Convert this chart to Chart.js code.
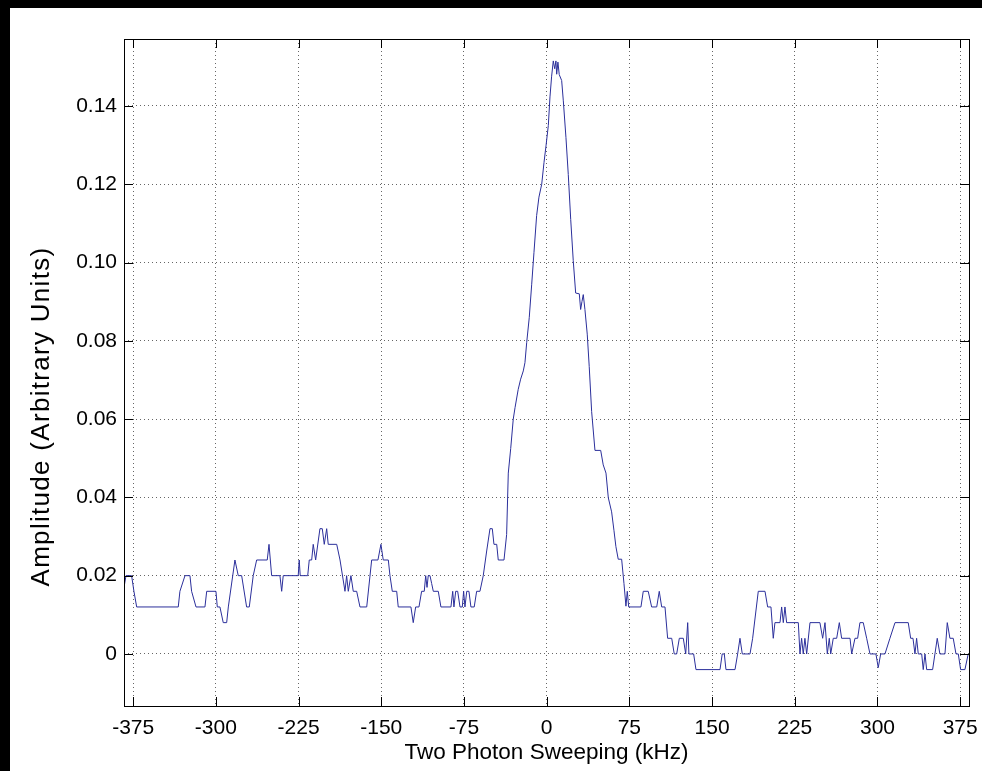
<!DOCTYPE html>
<html>
<head>
<meta charset="utf-8">
<script src="https://cdn.jsdelivr.net/npm/chart.js@4.4.0/dist/chart.umd.min.js"></script>
<style>
  html, body { margin: 0; padding: 0; background: #000; }
  #wrap { position: absolute; left: 10px; top: 8px; width: 972px; height: 763px; background: #fff; }
</style>
</head>
<body>
<div id="wrap"><canvas id="sweepChart"></canvas></div>
<script>
// two photon sweep
const freqKHz = [
  -383.3, -381.5, -376.4, -374.3, -371.8, -334.1, -332.6, -328.0, -323.5, -322.0,
  -318.0, -309.9, -308.3, -299.9, -298.7, -296.3, -293.3, -290.2, -288.7, -282.7,
  -279.7, -276.6, -272.1, -269.7, -266.1, -263.0, -253.4, -251.8, -249.4,
  -241.9, -240.3, -238.9, -225.3, -224.4, -223.5, -216.7, -215.3, -213.1, -211.7,
  -209.5, -205.6, -203.5, -201.7, -199.5, -198.1, -190.4, -187.4, -182.9, -181.4,
  -179.9, -177.5, -175.4, -172.3, -169.3, -163.2, -158.7, -153.0, -150.3, -148.2,
  -143.6, -142.1, -140.0, -136.0, -134.6, -123.1, -121.0, -118.8,
  -115.8, -113.4, -111.0, -109.7, -108.5, -107.4, -105.8, -104.3, -102.8, -98.3,
  -95.9, -86.8, -85.2, -84.1, -82.5, -80.7, -78.6, -76.5, -75.3, -74.1,
  -72.5, -70.5, -68.7, -65.7, -63.5, -60.5, -57.5,
  -54.4, -51.4, -49.3, -47.8, -45.3, -43.9, -38.7, -36.3, -34.8, -32.6,
  -30.3, -28.7, -25.8, -23.6, -21.2, -19.7, -18.1, -15.8, -13.6, -11.5,
  -9.1, -7.0, -4.5, -2.4, -0.6, 1.5, 3.0, 4.5, 6.0, 7.3,
  8.4, 9.1, 10.2, 11.4, 13.6, 15.1, 17.5, 19.6, 21.8, 24.1,
  26.3, 29.6, 30.8, 32.0, 33.2, 34.7, 36.8, 38.6, 40.8, 43.8,
  49.0, 51.3, 53.8, 55.9, 58.9, 61.0, 62.8, 64.9, 68.0, 70.1,
  71.9, 73.1, 74.4,
  85.5, 87.6, 92.1, 95.2, 99.8, 102.1, 104.3, 107.3, 109.7, 113.4,
  115.7, 117.9, 120.3, 123.9, 126.1, 127.9, 129.0, 133.3, 135.4, 157.2,
  159.2, 161.1, 162.6, 170.8, 173.2, 175.3, 177.4, 184.4, 186.8, 191.9,
  198.0, 200.4, 203.4, 205.5, 207.0, 211.6, 213.1, 214.6, 216.1, 217.6,
  228.2,
  229.7, 231.2, 232.7, 234.2, 235.8, 238.8, 247.8, 250.3, 252.4, 254.5,
  256.3, 257.6, 259.9, 263.0, 265.4, 267.5, 275.1, 276.6, 279.6, 282.0,
  284.1, 287.1, 290.2, 293.2, 298.6, 300.7, 302.9, 306.8, 311.3, 315.9,
  327.9, 330.1, 332.2, 334.0, 335.5, 337.0, 340.1, 341.5, 343.1, 344.6,
  350.0, 352.1, 354.2, 356.6, 361.2, 363.3, 365.7, 368.7, 371.2, 373.3,
  375.4, 379.3, 382.3
];

const amplitude = [
  0.017, 0.020, 0.020, 0.016, 0.012, 0.012, 0.016, 0.020, 0.020, 0.016,
  0.012, 0.012, 0.016, 0.016, 0.012, 0.012, 0.008, 0.008, 0.012, 0.024,
  0.020, 0.020, 0.012, 0.012, 0.020, 0.024, 0.024, 0.028, 0.020,
  0.020, 0.016, 0.020, 0.020, 0.024, 0.020, 0.020, 0.024, 0.024, 0.028,
  0.024, 0.032, 0.032, 0.028, 0.032, 0.028, 0.028, 0.024, 0.016, 0.020,
  0.016, 0.020, 0.016, 0.016, 0.012, 0.012, 0.024, 0.024, 0.028, 0.024,
  0.024, 0.020, 0.016, 0.016, 0.012, 0.012, 0.008, 0.012,
  0.012, 0.016, 0.016, 0.020, 0.017, 0.020, 0.020, 0.018, 0.016, 0.016,
  0.012, 0.012, 0.016, 0.012, 0.016, 0.016, 0.012, 0.012, 0.016, 0.012,
  0.016, 0.016, 0.012, 0.012, 0.016, 0.016, 0.020,
  0.0263, 0.032, 0.032, 0.028, 0.028, 0.024, 0.024, 0.0305, 0.0462, 0.0525,
  0.060, 0.0629, 0.0676, 0.0702, 0.0723, 0.0744, 0.0796, 0.0859, 0.0943, 0.1026,
  0.112, 0.1167, 0.120, 0.1256, 0.1298, 0.135, 0.1423, 0.1476, 0.1515, 0.1495,
  0.1515, 0.1481, 0.1512, 0.148, 0.1465, 0.1413, 0.1319, 0.1225, 0.111, 0.1005,
  0.0922, 0.092, 0.088, 0.090, 0.0918, 0.088, 0.0817, 0.0734, 0.0619, 0.052,
  0.052, 0.0483, 0.0462, 0.0399, 0.0363, 0.0316, 0.0274, 0.0242, 0.0242, 0.018,
  0.0122, 0.016, 0.012,
  0.012, 0.016, 0.016, 0.012, 0.012, 0.016, 0.012, 0.012, 0.004, 0.004,
  0.000, 0.000, 0.004, 0.004, 0.000, 0.008, 0.000, 0.000, -0.004, -0.004,
  0.000, 0.000, -0.004, -0.004, 0.000, 0.004, 0.000, 0.000, 0.004, 0.016,
  0.016, 0.012, 0.012, 0.004, 0.008, 0.008, 0.012, 0.008, 0.012, 0.008,
  0.008,
  0.000, 0.004, 0.000, 0.004, 0.000, 0.008, 0.008, 0.004, 0.008, 0.000,
  0.004, 0.000, 0.004, 0.004, 0.008, 0.004, 0.004, 0.000, 0.004, 0.004,
  0.008, 0.008, 0.004, 0.000, 0.000, -0.0035, 0.000, 0.000, 0.004, 0.008,
  0.008, 0.004, 0.004, 0.000, 0.004, 0.000, 0.000, -0.004, 0.000, -0.004,
  -0.004, 0.000, 0.004, 0.000, 0.000, 0.008, 0.004, 0.004, 0.000, 0.000,
  -0.004, -0.004, 0.000
];

const xTicks = [-375, -300, -225, -150, -75, 0, 75, 150, 225, 300, 375];
const yTicks = [0, 0.02, 0.04, 0.06, 0.08, 0.10, 0.12, 0.14];
const yTitle = 'Amplitude (Arbitrary Units)';

const FONT = "'Liberation Sans', Arial, sans-serif";

// matlab style box with inward ticks on all four sides, plus the y label
const boxPlugin = {
  id: 'boxPlugin',
  afterDraw(chart) {
    const { ctx, chartArea: a, scales: { x, y } } = chart;
    const tl = 9;
    ctx.save();
    ctx.strokeStyle = '#000';
    ctx.lineWidth = 1;
    ctx.strokeRect(Math.round(a.left) + 0.5, Math.round(a.top) + 0.5,
      Math.round(a.right - a.left), Math.round(a.bottom - a.top));
    ctx.beginPath();
    xTicks.forEach(v => {
      const px = Math.round(x.getPixelForValue(v)) + 0.5;
      ctx.moveTo(px, a.bottom); ctx.lineTo(px, a.bottom - tl);
      ctx.moveTo(px, a.top); ctx.lineTo(px, a.top + tl);
    });
    yTicks.forEach(v => {
      const py = Math.round(y.getPixelForValue(v)) + 0.5;
      ctx.moveTo(a.left, py); ctx.lineTo(a.left + tl, py);
      ctx.moveTo(a.right, py); ctx.lineTo(a.right - tl, py);
    });
    ctx.stroke();

    // rotated label: a bit below the axes centre in the original
    ctx.translate(32, (a.top + a.bottom) / 2 + 44);
    ctx.rotate(-Math.PI / 2);
    ctx.fillStyle = '#000';
    ctx.font = '26px ' + FONT;
    ctx.letterSpacing = '1.3px';
    ctx.textAlign = 'center';
    ctx.textBaseline = 'middle';
    ctx.fillText(yTitle, 0, 0);
    ctx.restore();
  }
};

new Chart(document.getElementById('sweepChart'), {
  type: 'scatter',
  data: {
    datasets: [{
      data: freqKHz.map((f, i) => ({ x: f, y: amplitude[i] })),
      showLine: true,
      borderColor: '#2b2f9b',
      borderWidth: 1,
      pointRadius: 0,
      tension: 0
    }]
  },
  options: {
    responsive: true,
    maintainAspectRatio: false,
    animation: false,
    layout: { padding: { top: 31, right: 13, left: 0, bottom: 0 } },
    plugins: { legend: { display: false }, tooltip: { enabled: false } },
    scales: {
      x: {
        type: 'linear',
        min: -383.3,
        max: 383,
        afterBuildTicks: s => { s.ticks = xTicks.map(v => ({ value: v })); },
        afterFit: s => { s.height = 65; s.paddingLeft = 0; s.paddingRight = 0; },
        ticks: {
          color: '#000',
          font: { family: FONT, size: 21 },
          padding: 10,
          maxRotation: 0,
          callback: v => String(v)
        },
        grid: { color: 'rgba(0,0,0,0.6)', lineWidth: 1, drawTicks: false },
        border: { display: false, dash: [1, 3] },
        title: {
          display: true,
          text: 'Two Photon Sweeping (kHz)',
          color: '#000',
          font: { family: FONT, size: 22.5 },
          padding: { top: 0, bottom: 5 }
        }
      },
      y: {
        type: 'linear',
        min: -0.0133,
        max: 0.1571,
        afterBuildTicks: s => { s.ticks = yTicks.map(v => ({ value: v })); },
        afterFit: s => { s.width = 114; s.paddingTop = 0; s.paddingBottom = 0; },
        ticks: {
          color: '#000',
          font: { family: FONT, size: 21 },
          padding: 7,
          callback: v => (v === 0 ? '0' : v.toFixed(2))
        },
        grid: { color: 'rgba(0,0,0,0.6)', lineWidth: 1, drawTicks: false },
        border: { display: false, dash: [1, 3] }
      }
    }
  },
  plugins: [boxPlugin]
});
</script>
</body>
</html>
